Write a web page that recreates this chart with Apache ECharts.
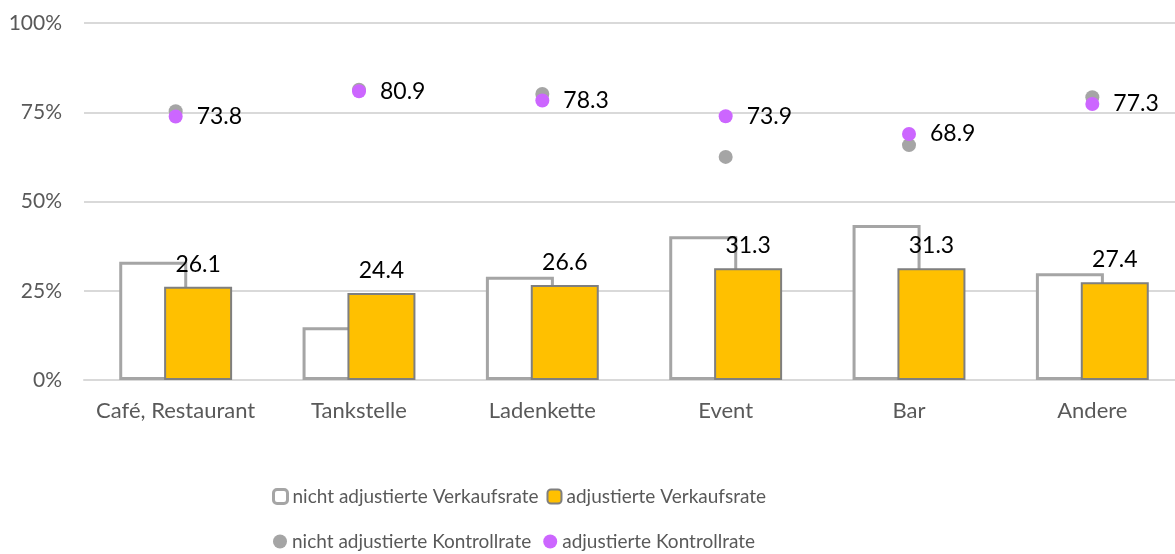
<!DOCTYPE html>
<html>
<head>
<meta charset="utf-8">
<script src="https://cdn.jsdelivr.net/npm/echarts@6/dist/echarts.min.js"></script>
<style>
html, body { margin: 0; padding: 0; background: #fff; }
#container { width: 1175px; height: 554px; }
</style>
</head>
<body>
<div id="container"></div>
<script>
var categories = ['Café, Restaurant', 'Tankstelle', 'Ladenkette', 'Event', 'Bar', 'Andere'];
var verkaufNicht = [33.1, 14.8, 28.9, 40.3, 43.4, 29.9];
var verkaufAdj = [26.1, 24.4, 26.6, 31.3, 31.3, 27.4];
var kontrolleNicht = [75.3, 81.3, 80.1, 62.5, 65.8, 79.2];
var kontrolleAdj = [73.8, 80.9, 78.3, 73.9, 68.9, 77.3];

var font = 'Lato';
var dom = document.getElementById('container');
var myChart = echarts.init(dom);

var option = {
    animation: false,
    textStyle: { fontFamily: font },
    grid: { left: 84, top: 23, width: 1100, height: 357, containLabel: false, outerBoundsMode: 'none' },
    legend: [
        {
            data: [
                { name: 'nicht adjustierte Verkaufsrate', itemStyle: { borderWidth: 3 } },
                { name: 'adjustierte Verkaufsrate', itemStyle: { borderWidth: 2 } }
            ],
            left: 267, top: 482,
            itemWidth: 14, itemHeight: 14, itemGap: 8,
            textStyle: { fontFamily: font, fontSize: 19, color: '#595959' }
        },
        {
            data: ['nicht adjustierte Kontrollrate', 'adjustierte Kontrollrate'],
            left: 268, top: 527,
            itemWidth: 14, itemHeight: 14, itemGap: 12,
            textStyle: { fontFamily: font, fontSize: 19, color: '#595959' }
        }
    ],
    xAxis: {
        type: 'category',
        data: categories,
        axisLine: { lineStyle: { color: '#D9D9D9', width: 2 } },
        axisTick: { show: false },
        axisLabel: { interval: 0, hideOverlap: false, fontFamily: font, fontSize: 22, color: '#595959', margin: 20 }
    },
    yAxis: {
        type: 'value',
        min: 0, max: 100, interval: 25,
        axisLabel: { formatter: '{value}%', fontFamily: font, fontSize: 21, color: '#595959', margin: 22 },
        splitLine: { lineStyle: { color: '#D9D9D9', width: 2 } },
        axisLine: { show: false },
        axisTick: { show: false }
    },
    series: [
        {
            name: 'nicht adjustierte Verkaufsrate',
            type: 'bar',
            data: verkaufNicht,
            barWidth: 68,
            barGap: '-34%',
            itemStyle: { color: '#FFFFFF', borderColor: '#A5A5A5', borderWidth: 3 }
        },
        {
            name: 'adjustierte Verkaufsrate',
            type: 'bar',
            data: verkaufAdj,
            barWidth: 68,
            itemStyle: { color: '#FFC000', borderColor: '#7F7F7F', borderWidth: 2 },
            label: {
                show: true, position: 'top', distance: 11,
                fontFamily: font, fontSize: 23, color: '#000'
            }
        },
        {
            name: 'nicht adjustierte Kontrollrate',
            type: 'scatter',
            data: kontrolleNicht,
            symbolSize: 14,
            itemStyle: { color: '#A5A5A5', opacity: 1 },
            z: 3
        },
        {
            name: 'adjustierte Kontrollrate',
            type: 'scatter',
            data: kontrolleAdj,
            symbolSize: 14,
            itemStyle: { color: '#CC66FF', opacity: 1 },
            z: 4,
            label: {
                show: true, position: 'right', distance: 14,
                fontFamily: font, fontSize: 23, color: '#000'
            }
        }
    ]
};
myChart.setOption(option);
</script>
</body>
</html>
